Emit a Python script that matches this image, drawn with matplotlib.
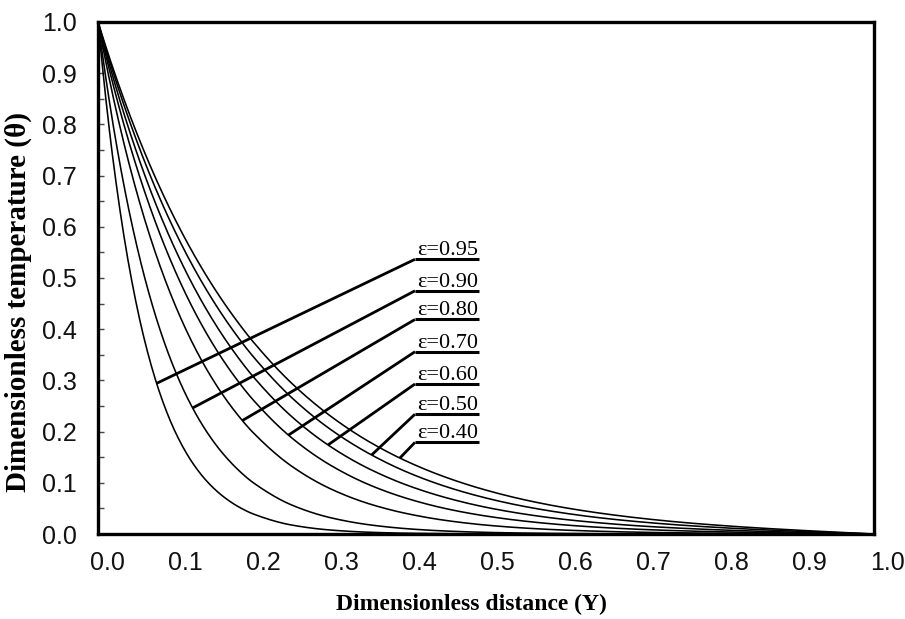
import numpy as np
import matplotlib
matplotlib.use('Agg')
import matplotlib.pyplot as plt
from matplotlib.transforms import ScaledTranslation
from matplotlib.ticker import MultipleLocator, FormatStrFormatter

# ---------------- data ----------------
Y = [0.00, 0.02, 0.04, 0.06, 0.08, 0.10, 0.12, 0.14, 0.16, 0.18, 0.20,
     0.25, 0.30, 0.35, 0.40, 0.45, 0.50, 0.55, 0.60, 0.65, 0.70, 0.75,
     0.80, 0.85, 0.90, 0.95, 1.00]

theta_095 = [1.0, 0.7233, 0.5231, 0.3783, 0.2736, 0.1979, 0.1431, 0.1035, 0.0749, 0.0541, 0.0392,
             0.0174, 0.0077, 0.0034, 0.0015, 0.0007, 0.0003, 0.0001, 0.0001, 0.0, 0.0, 0.0,
             0.0, 0.0, 0.0, 0.0, 0.0]
theta_090 = [1.0, 0.7945, 0.6313, 0.5016, 0.3985, 0.3166, 0.2516, 0.1999, 0.1588, 0.1262, 0.1003,
             0.0564, 0.0317, 0.0179, 0.0101, 0.0057, 0.0032, 0.0018, 0.0010, 0.0006, 0.0003, 0.0002,
             0.0001, 0.0001, 0.0, 0.0, 0.0]
theta_080 = [1.0, 0.8504, 0.7233, 0.6151, 0.5231, 0.4449, 0.3783, 0.3217, 0.2736, 0.2327, 0.1979,
             0.1320, 0.0880, 0.0587, 0.0392, 0.0261, 0.0174, 0.0116, 0.0077, 0.0052, 0.0034, 0.0023,
             0.0015, 0.0009, 0.0005, 0.0003, 0.0]
theta_070 = [1.0, 0.8746, 0.7649, 0.6690, 0.5851, 0.5117, 0.4475, 0.3914, 0.3423, 0.2994, 0.2618,
             0.1873, 0.1340, 0.0958, 0.0686, 0.0490, 0.0351, 0.0251, 0.0179, 0.0127, 0.0090, 0.0063,
             0.0044, 0.0029, 0.0018, 0.0008, 0.0]
theta_060 = [1.0, 0.8887, 0.7898, 0.7019, 0.6238, 0.5543, 0.4926, 0.4378, 0.3891, 0.3458, 0.3073,
             0.2288, 0.1703, 0.1268, 0.0944, 0.0703, 0.0522, 0.0388, 0.0287, 0.0213, 0.0156, 0.0114,
             0.0081, 0.0055, 0.0034, 0.0016, 0.0]
theta_050 = [1.0, 0.8994, 0.8090, 0.7276, 0.6544, 0.5886, 0.5294, 0.4762, 0.4283, 0.3852, 0.3465,
             0.2658, 0.2039, 0.1565, 0.1198, 0.0918, 0.0703, 0.0537, 0.0410, 0.0311, 0.0235, 0.0175,
             0.0127, 0.0088, 0.0055, 0.0027, 0.0]
theta_040 = [1.0, 0.9066, 0.8220, 0.7453, 0.6757, 0.6126, 0.5554, 0.5036, 0.4566, 0.4140, 0.3753,
             0.2938, 0.2299, 0.1797, 0.1405, 0.1098, 0.0857, 0.0667, 0.0518, 0.0401, 0.0307, 0.0231,
             0.0170, 0.0119, 0.0076, 0.0037, 0.0]

series = [theta_095, theta_090, theta_080, theta_070, theta_060, theta_050, theta_040]
eps_labels = ['ε=0.95', 'ε=0.90', 'ε=0.80', 'ε=0.70', 'ε=0.60', 'ε=0.50', 'ε=0.40']
# where each leader line touches its curve (Y) and height of each label underline (theta)
leader_Y = [0.0755, 0.1219, 0.186, 0.2454, 0.2964, 0.3526, 0.389]
label_theta = [0.5365, 0.475, 0.419, 0.356, 0.293, 0.234, 0.179]
label_Y0, label_Y1 = 0.4085, 0.491

x_ticks = [0.0, 0.1, 0.2, 0.3, 0.4, 0.5, 0.6, 0.7, 0.8, 0.9, 1.0]
y_ticks = [0.0, 0.1, 0.2, 0.3, 0.4, 0.5, 0.6, 0.7, 0.8, 0.9, 1.0]


def pchip(x, y, xn):
    x = np.asarray(x, float); y = np.asarray(y, float); xn = np.asarray(xn, float)
    h = np.diff(x); d = np.diff(y) / h
    n = len(x)
    m = np.zeros(n)
    for k in range(1, n - 1):
        if d[k - 1] * d[k] > 0:
            w1 = 2 * h[k] + h[k - 1]; w2 = h[k] + 2 * h[k - 1]
            m[k] = (w1 + w2) / (w1 / d[k - 1] + w2 / d[k])

    def end(h0, h1, d0, d1):
        mm = ((2 * h0 + h1) * d0 - h0 * d1) / (h0 + h1)
        if np.sign(mm) != np.sign(d0):
            mm = 0.0
        elif np.sign(d0) != np.sign(d1) and abs(mm) > abs(3 * d0):
            mm = 3 * d0
        return mm
    m[0] = end(h[0], h[1], d[0], d[1])
    m[-1] = end(h[-1], h[-2], d[-1], d[-2])
    idx = np.clip(np.searchsorted(x, xn) - 1, 0, n - 2)
    t = (xn - x[idx]) / h[idx]
    h00 = 2 * t**3 - 3 * t**2 + 1
    h10 = t**3 - 2 * t**2 + t
    h01 = -2 * t**3 + 3 * t**2
    h11 = t**3 - t**2
    return h00 * y[idx] + h10 * h[idx] * m[idx] + h01 * y[idx + 1] + h11 * h[idx] * m[idx + 1]


fig = plt.figure(figsize=(9.05, 6.19), dpi=100)
ax = fig.add_axes([0.1083, 0.1373, 0.8574, 0.8272])

xs = np.linspace(0, 1, 600)
for s in series:
    ax.plot(xs, pchip(Y, s, xs), color='black', lw=1.15, solid_capstyle='butt')

for s, lab, ly, lt in zip(series, eps_labels, leader_Y, label_theta):
    yt = float(pchip(Y, s, [ly])[0])
    ax.plot([ly, label_Y0], [yt, lt], color='black', lw=2.0, solid_capstyle='butt')
    ax.plot([label_Y0, label_Y1], [lt, lt], color='black', lw=2.2, solid_capstyle='butt')
    ax.annotate(lab, xy=(label_Y0, lt), xytext=(1.5, 3), textcoords='offset points',
                ha='left', va='baseline', fontsize=16, family='Liberation Serif')

ax.set_xlim(0, 1)
ax.set_ylim(0, 1)
ax.set_xticks(x_ticks)
ax.set_yticks(y_ticks)
ax.xaxis.set_major_formatter(FormatStrFormatter('%.1f'))
ax.yaxis.set_major_formatter(FormatStrFormatter('%.1f'))
ax.yaxis.set_minor_locator(MultipleLocator(0.05))
ax.tick_params(axis='y', which='both', direction='in', length=4, width=1, color='#444',
               labelsize=18, pad=15)
ax.tick_params(axis='x', which='both', length=0, labelsize=18, pad=12)
for lab in ax.get_xticklabels() + ax.get_yticklabels():
    lab.set_family('Liberation Sans')
    lab.set_color('#111111')
for lab, xv in zip(ax.get_xticklabels(), x_ticks):
    dx = (9 + 5 * xv) / 100.0
    lab.set_transform(lab.get_transform() + ScaledTranslation(dx, 0, fig.dpi_scale_trans))

for sp in ax.spines.values():
    sp.set_linewidth(2.4)
    sp.set_color('black')

ax.set_xlabel('Dimensionless distance (Y)', fontsize=17, fontweight='bold',
              family='Liberation Serif')
ax.xaxis.set_label_coords(0.4807, -0.117)
ax.set_ylabel('Dimensionless temperature (θ)', fontsize=21, fontweight='bold',
              family='Liberation Serif')
ax.yaxis.set_label_coords(-0.085, 0.453)

fig.savefig('out.png', dpi=100)
